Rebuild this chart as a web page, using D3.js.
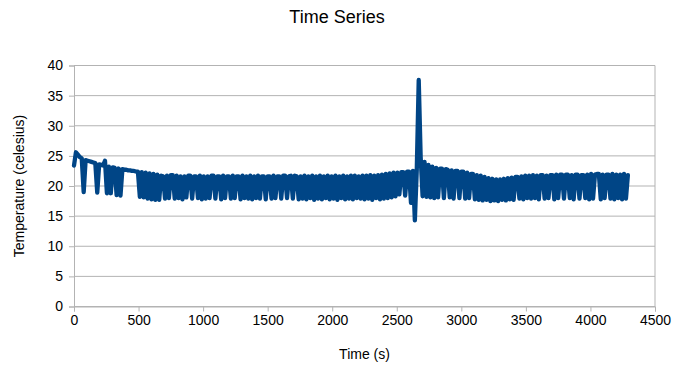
<!DOCTYPE html>
<html>
<head>
<meta charset="utf-8">
<script src="https://cdn.jsdelivr.net/npm/d3@7/dist/d3.min.js"></script>
<style>
  html, body { margin: 0; padding: 0; background: #fff; }
  svg { display: block; }
  text { font-family: "Liberation Sans", Arial, sans-serif; fill: #000; }
</style>
</head>
<body>
<script>
// ---- data ----
const chartTitle = "Time Series";
const xLabel = "Time (s)";
const yLabel = "Temperature (celesius)";
const xTicks = [0, 500, 1000, 1500, 2000, 2500, 3000, 3500, 4000, 4500];
const yTicks = [0, 5, 10, 15, 20, 25, 30, 35, 40];
const sampleInterval = 15; // seconds between readings
const temperature = [
  23.4, 25.6, 25.2, 24.8, 24.6, 19.0, 24.3, 24.2, 24.1, 24.0,
  23.9, 23.8, 18.9, 23.6, 23.5, 23.4, 24.2, 18.8, 23.2, 18.8,
  23.1, 23.0, 18.5, 22.9, 18.4, 22.8, 22.7, 22.7, 22.6, 22.6,
  22.5, 22.5, 22.4, 22.4, 18.2, 22.3, 18.1, 22.2, 17.9, 22.1,
  17.8, 22.0, 17.7, 21.9, 17.7, 21.7, 21.6, 17.9, 21.7, 18.0,
  21.8, 21.8, 17.9, 21.7, 18.0, 21.6, 17.8, 21.6, 18.1, 21.7,
  21.7, 17.9, 21.6, 21.6, 18.0, 21.7, 17.8, 21.6, 17.9, 21.6,
  18.0, 21.7, 21.7, 17.9, 21.6, 21.6, 17.8, 21.7, 18.0, 21.6,
  21.6, 17.9, 21.7, 18.0, 21.6, 21.6, 17.8, 21.7, 18.0, 21.6,
  17.9, 21.7, 17.8, 21.6, 18.0, 21.7, 17.9, 21.6, 21.6, 17.8,
  21.6, 21.6, 17.9, 21.7, 18.0, 21.6, 21.6, 17.9, 21.7, 21.7,
  18.0, 21.6, 21.7, 17.9, 21.7, 21.6, 17.8, 21.6, 17.9, 21.7,
  17.8, 21.6, 18.0, 21.7, 17.7, 21.6, 17.9, 21.7, 17.8, 21.6,
  18.0, 21.7, 17.8, 21.6, 17.9, 21.7, 17.7, 21.6, 18.0, 21.7,
  17.8, 21.6, 17.9, 21.7, 17.8, 21.7, 18.0, 21.6, 17.9, 21.7,
  17.8, 21.7, 17.9, 21.8, 17.7, 21.7, 18.0, 21.8, 17.8, 21.9,
  17.9, 22.0, 18.0, 22.1, 18.1, 22.2, 18.3, 22.2, 18.6, 22.3,
  22.3, 18.4, 22.4, 22.4, 17.2, 22.5, 14.3, 22.8, 37.6, 24.8,
  18.3, 24.0, 18.2, 23.5, 18.1, 23.2, 18.0, 23.0, 18.1, 22.9,
  22.9, 18.0, 22.8, 22.7, 18.1, 22.6, 17.9, 22.5, 22.5, 18.0,
  22.4, 22.4, 17.9, 22.2, 18.0, 22.0, 22.0, 17.8, 21.8, 17.7,
  21.7, 17.6, 21.5, 17.7, 21.3, 17.5, 21.2, 17.6, 21.1, 17.5,
  21.1, 17.7, 21.2, 17.6, 21.3, 17.8, 21.4, 17.7, 21.5, 21.5,
  17.9, 21.6, 17.8, 21.7, 18.0, 21.7, 17.9, 21.8, 18.0, 21.7,
  17.8, 21.8, 21.8, 17.9, 21.7, 18.0, 21.8, 21.8, 17.8, 21.9,
  18.0, 21.9, 21.9, 17.9, 21.9, 21.9, 18.0, 21.8, 17.8, 21.9,
  21.9, 17.9, 21.8, 21.8, 18.0, 21.9, 17.8, 22.0, 17.9, 21.9,
  22.0, 22.0, 17.8, 21.9, 18.0, 21.9, 21.9, 17.9, 22.0, 17.8,
  21.9, 18.0, 21.9, 17.8, 22.0, 17.9, 21.8
];
const seriesColor = "#004586";

// ---- chart ----
const W = 674, H = 365;
const plotLeft = 74, plotRight = 655, plotTop = 65.5, plotBottom = 306.5;

const svg = d3.select("body").append("svg")
  .attr("width", W).attr("height", H);
svg.append("rect").attr("width", W).attr("height", H).attr("fill", "#fff");

const x = d3.scaleLinear().domain([0, 4500]).range([plotLeft, plotRight]);
const y = d3.scaleLinear().domain([0, 40]).range([plotBottom, plotTop]);

// gridlines
svg.append("g").selectAll("line").data(yTicks).join("line")
  .attr("x1", plotLeft).attr("x2", plotRight)
  .attr("y1", d => y(d)).attr("y2", d => y(d))
  .attr("stroke", "#b3b3b3").attr("stroke-width", 1);

// right border
svg.append("line")
  .attr("x1", plotRight).attr("x2", plotRight).attr("y1", plotTop).attr("y2", plotBottom)
  .attr("stroke", "#b3b3b3");

// axes
const yAxis = svg.append("g").attr("transform", `translate(${plotLeft},0)`)
  .call(d3.axisLeft(y).tickValues(yTicks).tickSize(5).tickPadding(6).tickFormat(d3.format("d")));
const xAxis = svg.append("g").attr("transform", `translate(0,${plotBottom})`)
  .call(d3.axisBottom(x).tickValues(xTicks).tickSize(5).tickPadding(4).tickFormat(d3.format("d")));
[yAxis, xAxis].forEach(g => {
  g.select(".domain").attr("stroke", "#b3b3b3");
  g.selectAll(".tick line").attr("stroke", "#b3b3b3");
  g.selectAll(".tick text").attr("font-size", 14).attr("font-family", "Liberation Sans, Arial, sans-serif").attr("fill", "#000");
});

// line
const data = temperature.map((v, i) => ({ t: i * sampleInterval, v }));
svg.append("path").datum(data)
  .attr("fill", "none")
  .attr("stroke", seriesColor)
  .attr("stroke-width", 4.3)
  .attr("stroke-linejoin", "round")
  .attr("stroke-linecap", "round")
  .attr("d", d3.line().x(d => x(d.t)).y(d => y(d.v)));

// titles
svg.append("text").attr("x", 337).attr("y", 23)
  .attr("text-anchor", "middle").attr("font-size", 18).text(chartTitle);
svg.append("text").attr("x", (plotLeft + plotRight) / 2).attr("y", 359)
  .attr("text-anchor", "middle").attr("font-size", 14).text(xLabel);
svg.append("text")
  .attr("transform", `translate(24,${(plotTop + plotBottom) / 2}) rotate(-90)`)
  .attr("text-anchor", "middle").attr("font-size", 14).text(yLabel);
</script>
</body>
</html>
